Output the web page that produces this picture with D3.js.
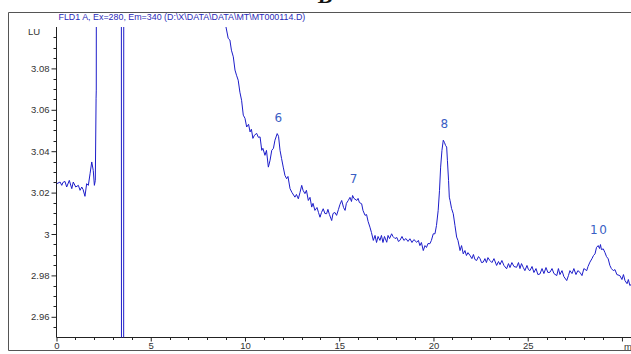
<!DOCTYPE html>
<html>
<head>
<meta charset="utf-8">
<script src="https://cdn.jsdelivr.net/npm/d3@7"></script>
<style>
  html, body { margin: 0; padding: 0; background: #fff; }
  svg { display: block; }
</style>
</head>
<body>
<svg id="chart" width="631" height="354"></svg>
<script>
// FLD trace: retention time (min) and fluorescence signal (LU).
// Values above/below the plotted LU window are kept so the trace runs off-scale and is clipped.
const timeMin = [
  0.01,0.19,0.28,0.34,0.45,0.54,0.68,0.81,0.89,1.02,1.16,1.25,1.34,1.41,1.51,1.60,1.69,1.78,1.87,1.95,
  2.01,2.06,2.10,2.11,2.12,2.50,3.00,3.44,3.45,3.56,3.57,5.00,8.00,8.97,
  8.99,9.11,9.20,9.28,9.38,9.47,9.55,9.64,9.73,9.82,9.91,10.00,10.09,10.19,10.27,10.34,10.42,10.50,
  10.62,10.71,10.80,10.89,10.95,11.06,11.14,11.24,11.33,11.42,11.51,11.59,11.71,11.78,11.86,11.94,
  12.03,12.12,12.21,12.28,12.39,12.49,12.65,12.73,12.83,12.92,13.01,13.08,13.18,13.26,13.36,13.45,
  13.54,13.61,13.71,13.82,13.90,13.98,14.06,14.15,14.24,14.33,14.40,14.48,14.60,14.67,14.77,14.86,
  14.96,15.04,15.13,15.23,15.31,15.38,15.48,15.57,15.65,15.71,15.78,15.93,16.00,16.07,16.19,16.26,
  16.37,16.45,16.53,16.63,16.71,16.81,16.90,16.98,17.06,17.16,17.24,17.32,17.40,17.52,17.59,17.67,
  17.78,17.85,17.96,18.06,18.14,18.22,18.33,18.43,18.54,18.65,18.75,18.86,18.96,19.11,19.20,19.28,
  19.36,19.46,19.55,19.63,19.71,19.81,19.89,19.99,20.08,20.16,20.25,20.32,20.38,20.45,20.52,20.58,
  20.64,20.70,20.74,20.80,20.84,20.88,20.96,21.05,21.14,21.23,21.30,21.41,21.49,21.58,21.67,21.75,
  21.83,21.94,22.04,22.12,22.20,22.29,22.39,22.47,22.55,22.64,22.73,22.81,22.89,22.99,23.10,23.21,
  23.35,23.45,23.53,23.63,23.74,23.88,23.98,24.06,24.16,24.27,24.41,24.51,24.59,24.67,24.76,24.85,
  24.96,25.04,25.12,25.23,25.33,25.44,25.54,25.65,25.76,25.86,25.97,26.07,26.18,26.29,26.39,26.54,
  26.63,26.71,26.82,26.92,27.07,27.16,27.24,27.35,27.45,27.56,27.66,27.77,27.88,27.98,28.13,28.20,
  28.30,28.41,28.49,28.57,28.65,28.74,28.81,28.86,28.91,29.01,29.10,29.18,29.27,29.36,29.44,29.54,
  29.63,29.73,29.89,30.00,30.08,30.16,30.27,30.34,30.42,30.53
];
const signalLU = [
  3.0243,3.0251,3.0235,3.0249,3.0254,3.0227,3.0259,3.0219,3.0251,3.0227,3.0235,3.0211,3.0227,3.0215,3.0182,3.0243,3.0235,3.0291,3.0348,3.0307,
  3.0235,3.0259,3.0656,3.0695,3.2,3.2,3.2,3.2,2.8,2.8,3.2,3.2,3.2,3.2,
  3.1001,3.0945,3.0937,3.0888,3.0856,3.0792,3.0767,3.0743,3.0685,3.0646,3.0574,3.0559,3.0517,3.0530,3.0493,3.0506,3.0462,3.0477,
  3.0486,3.0467,3.0469,3.0404,3.0414,3.0380,3.0404,3.0323,3.0356,3.0404,3.0414,3.0453,3.0485,3.0472,3.0404,3.0365,
  3.0323,3.0283,3.0267,3.0278,3.0219,3.0201,3.0178,3.0191,3.0170,3.0201,3.0235,3.0211,3.0195,3.0211,3.0162,3.0177,
  3.0130,3.0148,3.0114,3.0128,3.0104,3.0081,3.0104,3.0122,3.0099,3.0098,3.0119,3.0094,3.0065,3.0099,3.0104,3.0090,
  3.0119,3.0143,3.0162,3.0128,3.0114,3.0148,3.0162,3.0177,3.0157,3.0186,3.0172,3.0162,3.0172,3.0152,3.0146,3.0114,
  3.0090,3.0094,3.0061,3.0033,3.0007,2.9969,2.9993,2.9959,2.9988,2.9969,2.9993,2.9959,2.9988,2.9960,2.9993,2.9978,
  3.0001,2.9988,2.9978,2.9983,2.9964,2.9969,2.9988,2.9969,2.9978,2.9964,2.9977,2.9959,2.9973,2.9960,2.9969,2.9944,
  2.9959,2.9920,2.9944,2.9935,2.9954,2.9953,2.9969,3.0001,3.0001,3.0041,3.0114,3.0211,3.0323,3.0404,3.0453,3.0443,
  3.0428,3.0420,3.0356,3.0259,3.0178,3.0162,3.0123,3.0098,3.0041,2.9985,2.9969,2.9920,2.9944,2.9904,2.9920,2.9896,
  2.9910,2.9896,2.9881,2.9901,2.9877,2.9872,2.9891,2.9881,2.9862,2.9864,2.9881,2.9862,2.9886,2.9872,2.9862,2.9881,
  2.9848,2.9867,2.9852,2.9872,2.9848,2.9832,2.9857,2.9838,2.9862,2.9843,2.9839,2.9862,2.9833,2.9857,2.9839,2.9823,
  2.9848,2.9828,2.9823,2.9843,2.9814,2.9833,2.9804,2.9807,2.9833,2.9809,2.9838,2.9814,2.9815,2.9833,2.9809,2.9799,
  2.9833,2.9804,2.9823,2.9794,2.9775,2.9799,2.9823,2.9809,2.9833,2.9804,2.9823,2.9815,2.9799,2.9833,2.9823,2.9843,
  2.9864,2.9881,2.9896,2.9904,2.9935,2.9944,2.9930,2.9949,2.9925,2.9928,2.9910,2.9891,2.9880,2.9848,2.9833,2.9823,
  2.9828,2.9804,2.9799,2.9780,2.9804,2.9775,2.9760,2.9780,2.9751,2.9760
];

// Numbered peaks: apex time and apex signal
const peakNames = ["6", "7", "8", "10"];
const peakTimes = [11.71, 15.71, 20.52, 28.74];
const peakLU    = [3.0485, 3.0186, 3.0453, 2.9944];

const xTicks = [0, 5, 10, 15, 20, 25];
const yTicks = [2.96, 2.98, 3.00, 3.02, 3.04, 3.06, 3.08];
const titleText = "FLD1 A, Ex=280, Em=340 (D:\\X\\DATA\\DATA\\MT\\MT000114.D)";

const svg = d3.select("#chart");
const W = 631, H = 354;
const plot = { left: 56.5, right: 631, top: 27, bottom: 337.5 };

const x = d3.scaleLinear().domain([0, 30.48]).range([plot.left, plot.right]);
const y = d3.scaleLinear().domain([2.95, 3.10]).range([plot.bottom, plot.top]);

const axisColor = "#222";
const labelColor = "#333";
const traceColor = "#1d1dc9";

// outer frame
svg.append("path")
  .attr("d", `M${W},12.5 H8.5 V350.5 H${W}`)
  .attr("fill", "none").attr("stroke", "#555").attr("stroke-width", 1);

// panel letter, mostly above the page edge
svg.append("text")
  .attr("x", 318).attr("y", 3)
  .attr("font-family", "Liberation Serif, serif")
  .attr("font-weight", "bold").attr("font-style", "italic")
  .attr("font-size", 22).attr("fill", "#111")
  .text("B");

// title
svg.append("text")
  .attr("x", 58.5).attr("y", 20)
  .attr("font-family", "Liberation Sans, Arial, sans-serif")
  .attr("font-size", 8.9).attr("fill", "#2a2ab8")
  .text(titleText);

// unit label
svg.append("text")
  .attr("x", 28).attr("y", 35)
  .attr("font-family", "Liberation Sans, Arial, sans-serif")
  .attr("font-size", 9.5).attr("fill", labelColor)
  .text("LU");

// y axis
const yAxis = d3.axisLeft(y).tickValues(yTicks).tickSize(5)
  .tickFormat(d => d3.format("~g")(+d.toFixed(2)));
const gy = svg.append("g").attr("transform", `translate(${plot.left},0)`).call(yAxis);
gy.select(".domain").attr("stroke", axisColor).attr("d", `M-0,${plot.top}V${plot.bottom}`);
gy.selectAll(".tick line").attr("stroke", axisColor);
gy.selectAll(".tick text")
  .attr("font-family", "Liberation Sans, Arial, sans-serif")
  .attr("font-size", 9.5).attr("fill", labelColor).attr("x", -7);

const yMinor = d3.range(2.955, 3.1, 0.005).filter(v => Math.abs(Math.round(v * 50) - v * 50) > 1e-6);
svg.append("g").selectAll("line").data(yMinor).join("line")
  .attr("x1", plot.left - 3).attr("x2", plot.left)
  .attr("y1", d => Math.round(y(d)) + 0.5).attr("y2", d => Math.round(y(d)) + 0.5)
  .attr("stroke", axisColor);

// x axis
const xAxis = d3.axisBottom(x).tickValues(xTicks.concat([30])).tickSize(4)
  .tickFormat(d => d === 30 ? "" : d);
const gx = svg.append("g").attr("transform", `translate(0,${plot.bottom})`).call(xAxis);
gx.select(".domain").attr("stroke", axisColor).attr("d", `M${plot.left},0H${plot.right}`);
gx.selectAll(".tick line").attr("stroke", axisColor);
gx.selectAll(".tick text")
  .attr("font-family", "Liberation Sans, Arial, sans-serif")
  .attr("font-size", 9.5).attr("fill", labelColor).attr("y", 5);

const xMinor = d3.range(1, 31, 1).filter(v => v % 5 !== 0);
svg.append("g").selectAll("line").data(xMinor).join("line")
  .attr("x1", d => Math.round(x(d)) + 0.5).attr("x2", d => Math.round(x(d)) + 0.5)
  .attr("y1", plot.bottom).attr("y2", plot.bottom + 2.5)
  .attr("stroke", axisColor);

svg.append("text")
  .attr("x", 624).attr("y", 350)
  .attr("font-family", "Liberation Sans, Arial, sans-serif")
  .attr("font-size", 9.5).attr("fill", labelColor)
  .text("min");

// trace, clipped to the plot window
svg.append("clipPath").attr("id", "plotClip")
  .append("rect")
  .attr("x", plot.left).attr("y", plot.top)
  .attr("width", plot.right - plot.left).attr("height", plot.bottom - plot.top);

const points = timeMin.map((t, i) => [t, signalLU[i]]);
svg.append("path")
  .datum(points)
  .attr("clip-path", "url(#plotClip)")
  .attr("fill", "none")
  .attr("stroke", traceColor)
  .attr("stroke-width", 1)
  .attr("stroke-linejoin", "round")
  .attr("d", d3.line().x(d => x(d[0])).y(d => y(d[1])));

// peak numbers
svg.append("g").selectAll("text").data(peakNames).join("text")
  .attr("x", (d, i) => x(peakTimes[i]) + 1)
  .attr("y", (d, i) => y(peakLU[i]) - 12)
  .attr("text-anchor", "middle")
  .attr("font-family", "DejaVu Sans, sans-serif")
  .attr("font-size", 12)
  .attr("letter-spacing", (d) => d.length > 1 ? 1.5 : 0)
  .attr("fill", "#3a5ec4")
  .text(d => d);
</script>
</body>
</html>
